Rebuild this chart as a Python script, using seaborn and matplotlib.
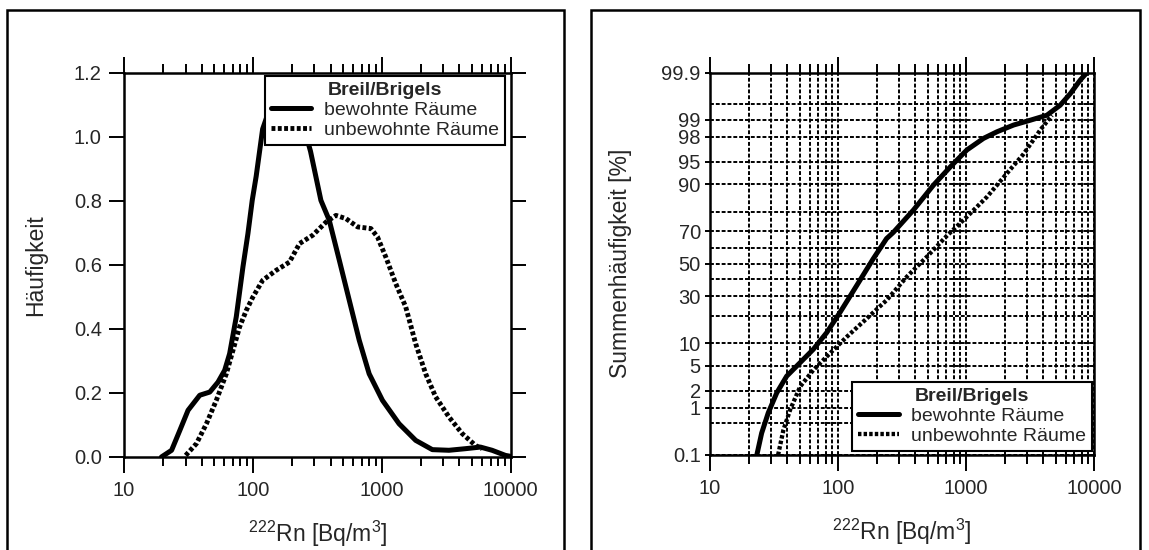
import numpy as np
import matplotlib
matplotlib.use("Agg")
import matplotlib.pyplot as plt
import seaborn as sns
from matplotlib.patches import Rectangle
from matplotlib.ticker import FixedLocator, NullFormatter, FormatStrFormatter
from statistics import NormalDist

# ======= DATA =======
# left panel: Häufigkeit (frequency density)
bew_x = [19.5, 23.4, 27.1, 31.4, 38.7, 46.3, 53.6, 60.4, 66, 74.3, 83.7, 91.5, 98.8,
         106, 119, 138, 168, 204, 241, 280, 337, 391, 468, 559, 668, 798, 1012, 1361,
         1832, 2466, 3319, 4457, 5821, 7171, 9101, 10000]
bew_y = [0, 0.021, 0.083, 0.146, 0.193, 0.203, 0.234, 0.271, 0.323, 0.438, 0.594, 0.698,
         0.802, 0.877, 1.025, 1.10, 1.14, 1.12, 1.05, 0.955, 0.802, 0.74, 0.615, 0.49,
         0.365, 0.26, 0.177, 0.104, 0.052, 0.023, 0.021, 0.026, 0.031, 0.021, 0.005, 0.002]
unb_x = [30.1, 36.5, 43.6, 52, 62.2, 70, 78.8, 88.8, 100, 119, 151, 192, 230, 291, 369,
         441, 527, 649, 822, 925, 1074, 1283, 1533, 1832, 2190, 2616, 3319, 4209, 5333, 6000]
unb_y = [0.005, 0.042, 0.104, 0.177, 0.26, 0.333, 0.406, 0.458, 0.5, 0.552, 0.583, 0.609,
         0.667, 0.693, 0.734, 0.755, 0.745, 0.719, 0.714, 0.688, 0.625, 0.542, 0.469,
         0.354, 0.26, 0.188, 0.125, 0.073, 0.036, 0.026]

# right panel: Summenhäufigkeit [%] (cumulative, probability scale)
sum_bew_x = [23.2, 25.3, 28.5, 33.2, 39.7, 50.5, 64.1, 81.5, 103.5, 139.6, 188, 239, 270,
             387, 555, 750, 1012, 1365, 1738, 2344, 3162, 4266, 5420, 6494, 7768, 8770]
sum_bew_y = [0.1, 0.31, 0.80, 1.85, 3.47, 5.5, 8.35, 13.3, 21.6, 36.2, 53.2, 65.8, 69.4,
             80.7, 89.8, 94.1, 96.7, 97.86, 98.35, 98.75, 98.98, 99.18, 99.48, 99.70, 99.85, 99.9]
sum_unb_x = [34.0, 37.4, 42.2, 50.5, 64.1, 86.5, 117, 168, 240, 344, 493, 706, 1012, 1452,
             2080, 2808, 3784, 4670]
sum_unb_y = [0.1, 0.36, 0.91, 2.35, 4.3, 7.4, 11.9, 18.9, 27.9, 41.7, 54.5, 67.4, 77.6,
             86.0, 92.8, 96.2, 98.46, 99.18]

x_ticks = [10, 100, 1000, 10000]
x_ticklabels = ["10", "100", "1000", "10000"]
x_minor = [m * 10 ** k for k in range(1, 4) for m in range(2, 10)]
left_yticks = [0.0, 0.2, 0.4, 0.6, 0.8, 1.0, 1.2]
prob_ticks = [0.1, 1, 2, 5, 10, 30, 50, 70, 90, 95, 98, 99, 99.9]
prob_labels = ["0.1", "1", "2", "5", "10", "30", "50", "70", "90", "95", "98", "99", "99.9"]
prob_minor = [0.5, 20, 40, 60, 80, 99.5]

legend_title = "Breil/Brigels"
label_bew = "bewohnte Räume"
label_unb = "unbewohnte Räume"
xlabel = r"$^{222}$Rn [Bq/m$^{3}$]"
# ====================

sns.set_theme(style="ticks")
plt.rcParams['font.family'] = ['Liberation Sans', 'DejaVu Sans']
plt.rcParams['mathtext.default'] = 'regular'

TICK_FS = 14.5
LABEL_FS = 16.5
LEG_FS = 14

W, H = 1149, 550
fig = plt.figure(figsize=(W / 100, H / 100), dpi=100)
ax1 = fig.add_axes([124 / W, 1 - 457 / H, 386.7 / W, 384 / H])
ax2 = fig.add_axes([710 / W, 1 - 455 / H, 384.3 / W, 382.5 / H])

solid_kw = dict(color="black", linewidth=3.6, estimator=None, errorbar=None,
                solid_capstyle="round")
dot_kw = dict(color="black", linewidth=3.5, estimator=None, errorbar=None,
              linestyle=(0, (0.8, 0.5)), dash_capstyle="butt")

sns.lineplot(x=bew_x, y=bew_y, ax=ax1, label=label_bew, **solid_kw)
sns.lineplot(x=unb_x, y=unb_y, ax=ax1, label=label_unb, **dot_kw)

sns.lineplot(x=sum_bew_x, y=sum_bew_y, ax=ax2, label=label_bew, **solid_kw)
sns.lineplot(x=sum_unb_x, y=sum_unb_y, ax=ax2, label=label_unb,
             **{**dot_kw, "linewidth": 3.1})

# normal probability scale for the cumulative axis
_nd = NormalDist()
_ppf = np.vectorize(_nd.inv_cdf, otypes=[float])
_cdf = np.vectorize(_nd.cdf, otypes=[float])


def prob_fwd(p):
    p = np.clip(np.asarray(p, dtype=float) / 100.0, 1e-9, 1 - 1e-9)
    return _ppf(p)


def prob_inv(z):
    return _cdf(np.asarray(z, dtype=float)) * 100.0


for ax in (ax1, ax2):
    ax.set_xscale("log")
    ax.set_xlim(10, 10000)
    ax.xaxis.set_major_locator(FixedLocator(x_ticks))
    ax.set_xticklabels(x_ticklabels)
    ax.xaxis.set_minor_locator(FixedLocator(x_minor))
    ax.xaxis.set_minor_formatter(NullFormatter())
    for s in ax.spines.values():
        s.set_visible(True)
        s.set_linewidth(1.8)
        s.set_color("black")
    ax.tick_params(axis="x", which="both", direction="out", top=True, bottom=True,
                   width=1.4, color="black", labelsize=TICK_FS, pad=6)
    ax.tick_params(axis="x", which="major", length=11.5)
    ax.tick_params(axis="x", which="minor", length=6.5)
    ax.set_xlabel(xlabel, fontsize=LABEL_FS)
    ax.xaxis.set_label_coords(0.5, -0.162)

# left panel
ax1.set_ylim(0, 1.2)
ax1.yaxis.set_major_locator(FixedLocator(left_yticks))
ax1.yaxis.set_major_formatter(FormatStrFormatter("%.1f"))
ax1.tick_params(axis="y", which="major", direction="out", left=True, right=True,
                length=11, width=1.4, color="black", labelsize=TICK_FS, pad=5)
ax1.set_ylabel("Häufigkeit", fontsize=LABEL_FS)
ax1.yaxis.set_label_coords(-0.199, 0.5)

# right panel
ax2.set_yscale("function", functions=(prob_fwd, prob_inv))
ax2.set_ylim(0.1, 99.9)
ax2.yaxis.set_major_locator(FixedLocator(prob_ticks))
ax2.set_yticklabels(prob_labels)
ax2.yaxis.set_minor_locator(FixedLocator(prob_minor))
ax2.yaxis.set_minor_formatter(NullFormatter())
ax2.tick_params(axis="y", which="major", direction="out", left=True, right=False,
                length=3.6, width=1.4, color="black", labelsize=TICK_FS, pad=3)
ax2.tick_params(axis="y", which="minor", length=0)
ax2.grid(True, which="both", axis="both", color="black",
         linestyle=(0, (2.0, 1.0)), linewidth=1.4)
ax2.set_axisbelow(True)
ax2.set_ylabel("Summenhäufigkeit [%]", fontsize=LABEL_FS)
ax2.yaxis.set_label_coords(-0.203, 0.5)

leg_kw = dict(title=legend_title, fontsize=LEG_FS, frameon=True, fancybox=False,
              edgecolor="black", framealpha=1, borderaxespad=0, handlelength=2.1,
              handletextpad=0.65, labelspacing=0.12, borderpad=0.3)
leg1 = ax1.legend(loc="upper right", bbox_to_anchor=(0.985, 0.991), **leg_kw)
leg2 = ax2.legend(loc="lower right", bbox_to_anchor=(0.994, 0.0104), **leg_kw)
for leg in (leg1, leg2):
    leg.get_title().set_fontweight("bold")
    leg.get_title().set_fontsize(LEG_FS)
    leg.get_frame().set_linewidth(1.5)
    leg.set_zorder(10)

# panel frames (cut off at the bottom like the scan)
fig.add_artist(Rectangle((7 / W, -0.1), 557 / W, 1.1 - 10 / H, transform=fig.transFigure,
                         fill=False, edgecolor="black", linewidth=1.8))
fig.add_artist(Rectangle((591 / W, -0.1), 549 / W, 1.1 - 10 / H, transform=fig.transFigure,
                         fill=False, edgecolor="black", linewidth=1.8))

fig.savefig("out.png", dpi=100, facecolor="white")
